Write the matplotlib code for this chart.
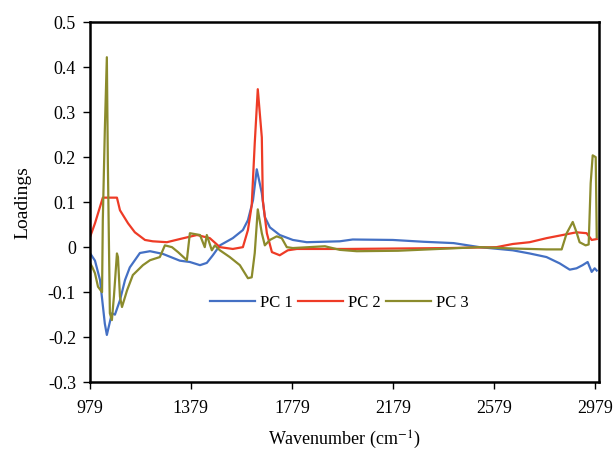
import numpy as np
import matplotlib.pyplot as plt

# wavenumber / loading pairs
pc1_x = [979, 999, 1019, 1038, 1046, 1066, 1078, 1098, 1118, 1137, 1177, 1217, 1268,
         1335, 1375, 1415, 1442, 1466, 1494, 1545, 1585, 1605, 1625, 1640, 1660, 1672,
         1692, 1731, 1783, 1838, 1969, 2020, 2179, 2300, 2420, 2523, 2654, 2721, 2788,
         2840, 2880, 2907, 2931, 2951, 2967, 2979, 2987]
pc1_y = [-0.013, -0.03, -0.073, -0.17, -0.195, -0.147, -0.15, -0.118, -0.073, -0.045,
         -0.013, -0.009, -0.015, -0.03, -0.033, -0.04, -0.035, -0.018, 0.004, 0.02,
         0.038, 0.06, 0.104, 0.173, 0.12, 0.067, 0.044, 0.027, 0.016, 0.011, 0.013,
         0.017, 0.016, 0.012, 0.009, 0.0, -0.007, -0.014, -0.022, -0.036, -0.05,
         -0.047, -0.04, -0.033, -0.055, -0.047, -0.052]

pc2_x = [979, 999, 1030, 1086, 1098, 1130, 1157, 1197, 1228, 1284, 1335, 1403, 1454,
         1494, 1545, 1585, 1605, 1620, 1632, 1644, 1660, 1664, 1680, 1700, 1731, 1763,
         1799, 2000, 2200, 2400, 2590, 2654, 2721, 2788, 2852, 2907, 2947, 2967, 2987]
pc2_y = [0.022, 0.053, 0.11, 0.11, 0.082, 0.053, 0.033, 0.016, 0.013, 0.011, 0.018,
         0.027, 0.02, 0.0, -0.004, 0.0, 0.038, 0.093, 0.231, 0.351, 0.244, 0.104,
         0.031, -0.011, -0.018, -0.007, -0.004, -0.004, -0.003, -0.002, 0.0, 0.007,
         0.011, 0.02, 0.027, 0.033, 0.031, 0.016, 0.018]

pc3_x = [979, 988, 999, 1011, 1027, 1030, 1038, 1046, 1050, 1058, 1066, 1074, 1086,
         1090, 1098, 1106, 1126, 1149, 1189, 1217, 1256, 1276, 1304, 1328, 1363, 1375,
         1415, 1434, 1442, 1462, 1474, 1494, 1533, 1573, 1605, 1620, 1632, 1644, 1660,
         1672, 1692, 1719, 1739, 1759, 1783, 1910, 1969, 2036, 2200, 2400, 2523, 2654,
         2788, 2848, 2868, 2892, 2907, 2919, 2943, 2955, 2963, 2971, 2983, 2987]
pc3_y = [-0.035, -0.044, -0.058, -0.088, -0.1, 0.06, 0.26, 0.422, 0.187, -0.147,
         -0.162, -0.11, -0.014, -0.022, -0.11, -0.133, -0.096, -0.062, -0.04, -0.029,
         -0.022, 0.004, 0.0, -0.011, -0.029, 0.031, 0.027, 0.0, 0.027, -0.007, 0.004,
         -0.007, -0.022, -0.04, -0.069, -0.067, -0.013, 0.084, 0.031, 0.004, 0.016,
         0.024, 0.02, 0.0, -0.002, 0.002, -0.006, -0.009, -0.008, -0.003, 0.0, -0.003,
         -0.005, -0.005, 0.031, 0.056, 0.033, 0.011, 0.004, 0.006, 0.142, 0.204, 0.2,
         0.022]

xticks = [979, 1379, 1779, 2179, 2579, 2979]
yticks = [-0.3, -0.2, -0.1, 0, 0.1, 0.2, 0.3, 0.4, 0.5]
ytick_labels = ['-0.3', '-0.2', '-0.1', '0', '0.1', '0.2', '0.3', '0.4', '0.5']

plt.rcParams['font.family'] = ['Liberation Serif', 'DejaVu Serif']
plt.rcParams['mathtext.fontset'] = 'stix'

fig = plt.figure(figsize=(6.16, 4.61), dpi=100)
ax = fig.add_axes([0.146, 0.171, 0.826, 0.781])

ax.plot(pc1_x, pc1_y, color='#4470c4', lw=1.6, label='PC 1')
ax.plot(pc2_x, pc2_y, color='#ee3b26', lw=1.6, label='PC 2')
ax.plot(pc3_x, pc3_y, color='#8b8b2c', lw=1.6, label='PC 3')

ax.set_xlim(979, 2995)
ax.set_ylim(-0.3, 0.5)
ax.set_xticks(xticks)
ax.set_xticklabels([str(t) for t in xticks])
ax.set_yticks(yticks)
ax.set_yticklabels(ytick_labels)
ax.tick_params(direction='out', length=5, width=1, labelsize=13, pad=5)
ax.tick_params(axis='x', pad=8)
for s in ax.spines.values():
    s.set_linewidth(1.8)

ax.set_xlabel('Wavenumber (cm$^{\\mathrm{-1}}$)', fontsize=13, labelpad=8)
ax.set_ylabel('Loadings', fontsize=14, labelpad=12)

ax.legend(loc='center', bbox_to_anchor=(0.49, 0.22), ncol=3, frameon=False,
          fontsize=12, handlelength=2.7, handletextpad=0.3, columnspacing=0.3)

plt.savefig('out.png', dpi=100)
